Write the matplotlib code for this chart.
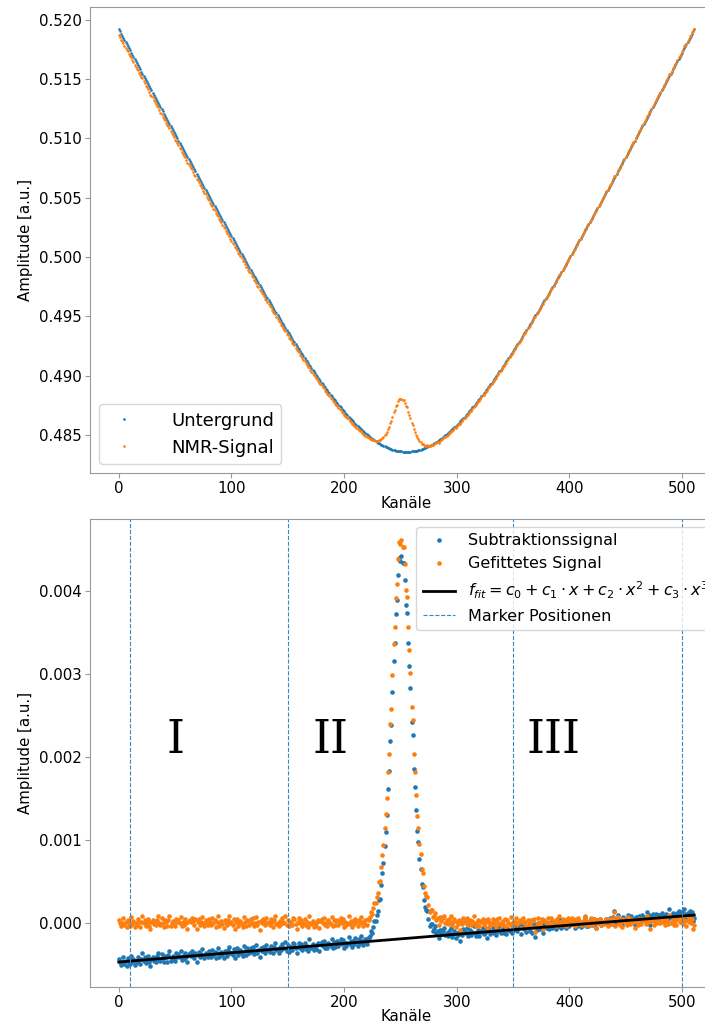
import numpy as np
import matplotlib
matplotlib.use("Agg")
import matplotlib.pyplot as plt

# ---------------- data ----------------
kanaele = np.arange(512)

# background: minimum value and offsets (units 1e-5) for channels 256..511;
# the curve is mirror-symmetric around channel 255.5
untergrund_min = 0.48360
untergrund_offset_halb = [
    0, 0, 1, 2, 3, 4, 5, 7,
    9, 11, 14, 16, 19, 22, 26, 29,
    33, 37, 42, 46, 51, 56, 61, 67,
    72, 78, 84, 91, 97, 104, 111, 118,
    125, 133, 140, 148, 156, 165, 173, 182,
    190, 199, 208, 218, 227, 237, 246, 256,
    266, 276, 287, 297, 308, 318, 329, 340,
    351, 363, 374, 385, 397, 409, 421, 433,
    445, 457, 469, 482, 494, 507, 519, 532,
    545, 558, 571, 584, 597, 611, 624, 638,
    651, 665, 679, 692, 706, 720, 734, 748,
    762, 777, 791, 805, 820, 834, 849, 863,
    878, 893, 907, 922, 937, 952, 967, 982,
    997, 1012, 1027, 1043, 1058, 1073, 1089, 1104,
    1120, 1135, 1151, 1166, 1182, 1198, 1213, 1229,
    1245, 1261, 1276, 1292, 1308, 1324, 1340, 1356,
    1372, 1388, 1404, 1421, 1437, 1453, 1469, 1485,
    1502, 1518, 1534, 1551, 1567, 1584, 1600, 1617,
    1633, 1650, 1666, 1683, 1699, 1716, 1733, 1749,
    1766, 1783, 1799, 1816, 1833, 1850, 1867, 1883,
    1900, 1917, 1934, 1951, 1968, 1985, 2002, 2019,
    2036, 2053, 2070, 2087, 2104, 2121, 2138, 2155,
    2172, 2189, 2207, 2224, 2241, 2258, 2275, 2293,
    2310, 2327, 2344, 2362, 2379, 2396, 2414, 2431,
    2448, 2465, 2483, 2500, 2518, 2535, 2552, 2570,
    2587, 2605, 2622, 2640, 2657, 2675, 2692, 2710,
    2727, 2745, 2762, 2780, 2797, 2815, 2832, 2850,
    2867, 2885, 2903, 2920, 2938, 2956, 2973, 2991,
    3008, 3026, 3044, 3061, 3079, 3097, 3115, 3132,
    3150, 3168, 3185, 3203, 3221, 3239, 3256, 3274,
    3292, 3310, 3327, 3345, 3363, 3381, 3399, 3416,
    3434, 3452, 3470, 3488, 3506, 3523, 3541, 3559,
]

# subtraction signal (NMR - background), units 1e-5, channels 0..511
subtraktion_e5 = [
    -44, -48, -51, -47, -42, -50, -46, -52, -43, -47, -50, -40, -48, -44, -51, -46,
    -48, -41, -45, -50, -44, -37, -46, -42, -49, -45, -40, -48, -52, -44, -41, -46,
    -43, -47, -40, -36, -44, -46, -38, -43, -48, -40, -42, -47, -39, -34, -46, -43,
    -40, -44, -46, -37, -41, -38, -42, -34, -45, -40, -44, -36, -41, -48, -38, -37,
    -40, -34, -38, -43, -36, -47, -39, -35, -42, -38, -32, -40, -43, -36, -39, -42,
    -34, -38, -41, -33, -39, -35, -43, -37, -30, -42, -38, -35, -39, -43, -34, -37,
    -40, -33, -29, -37, -36, -39, -32, -43, -35, -31, -39, -36, -33, -37, -40, -28,
    -34, -39, -31, -33, -37, -30, -35, -29, -38, -34, -27, -37, -33, -42, -31, -34,
    -29, -31, -36, -27, -33, -32, -35, -28, -31, -37, -29, -24, -33, -32, -36, -29,
    -33, -26, -30, -31, -23, -34, -27, -35, -30, -29, -33, -25, -26, -31, -37, -29,
    -24, -30, -26, -33, -29, -25, -32, -28, -34, -20, -29, -30, -26, -33, -28, -32,
    -27, -24, -34, -26, -23, -28, -22, -30, -27, -31, -24, -26, -28, -20, -30, -23,
    -29, -24, -22, -28, -25, -20, -26, -21, -30, -24, -28, -25, -17, -26, -22, -29,
    -22, -26, -19, -23, -28, -20, -24, -16, -22, -27, -23, -20, -26, -18, -19, -16,
    -10, -12, -5, 2, 2, 9, 14, 27, 29, 46, 60, 72, 93, 110, 130, 161,
    183, 219, 238, 278, 316, 337, 372, 389, 419, 440, 437, 442, 434, 434, 414, 383,
    374, 338, 310, 283, 242, 226, 185, 164, 136, 111, 97, 77, 65, 47, 43, 27,
    19, 15, 14, 4, -4, -1, -1, -10, -8, -4, -13, -10, -19, -9, -13, -9,
    -10, -7, -15, -12, -16, -10, -14, -6, -17, -14, -10, -19, -13, -15, -11, -22,
    -12, -15, -8, -11, -13, -7, -16, -12, -9, -15, -11, -4, -13, -16, -12, -9,
    -16, -10, -11, -7, -14, -12, -8, -18, -7, -10, -14, -11, -6, -12, -8, -15,
    -6, -10, -4, -13, -9, -8, -12, -5, -14, -6, -9, -10, -2, -12, -8, -9,
    -8, -3, -10, -7, -4, -14, -6, -2, -8, -7, -11, -4, -6, -10, -3, -12,
    -5, -2, -17, -9, 0, -6, -8, -5, -1, -13, -2, -4, -6, 0, -8, -5,
    1, -6, -3, -2, -8, 0, -4, 4, -3, -6, 1, -4, 0, -7, -2, 2,
    -4, 0, 3, -2, -1, -6, 2, -4, 4, 0, -5, -1, -2, 2, 7, -4,
    1, -4, 0, 5, -3, 1, 4, -1, -7, 3, 0, 4, -3, 1, -1, 0,
    1, 5, -3, 3, 6, 2, -1, 7, 14, -2, 5, 9, 2, -1, 3, -3,
    7, 4, 3, 0, 9, 5, 1, 8, 3, 4, -3, 7, 5, 1, 8, 3,
    2, 9, 7, 6, 3, 13, 5, 9, -3, 7, 10, 3, 6, 11, 5, 9,
    9, 5, 12, 7, 8, 3, 11, 9, 5, 16, 7, 8, 12, 4, 9, 5,
    12, 14, 8, 9, 13, 6, 16, 10, 5, 12, 9, 14, 8, 13, 2, 6,
]

# cubic fit coefficients c0..c3
fit_koeff = [-4.75e-4, 1.13e-6, -5.0e-11, 2.0e-14]

marker_positionen = [10, 150, 350, 500]
bereich_namen = ["I", "II", "III"]
bereich_x = [50, 188, 386]
bereich_y = [0.0022, 0.0022, 0.0022]

# ---------------- derived series ----------------
halb = np.array(untergrund_offset_halb, dtype=float)
untergrund = untergrund_min + 1e-5 * np.concatenate([halb[::-1], halb])
subtraktion = 1e-5 * np.array(subtraktion_e5, dtype=float)
nmr_signal = untergrund + subtraktion
x = kanaele.astype(float)
f_fit = fit_koeff[0] + fit_koeff[1] * x + fit_koeff[2] * x**2 + fit_koeff[3] * x**3
gefittet = subtraktion - f_fit

# ---------------- figure ----------------
plt.rcParams['font.family'] = ['DejaVu Sans']
fig = plt.figure(figsize=(7.05, 10.24), dpi=100)
ax1 = fig.add_axes([0.1277, 0.5381, 0.8979, 0.4546])
ax2 = fig.add_axes([0.1277, 0.0361, 0.8979, 0.4570])

spine_col = '0.6'
for ax in (ax1, ax2):
    for s in ax.spines.values():
        s.set_color(spine_col)
    ax.tick_params(labelsize=10.8, color=spine_col, pad=2.5)

# top
ax1.plot(kanaele, untergrund, 'o', ms=1.9, mew=0, color='C0', label='Untergrund')
ax1.plot(kanaele, nmr_signal, 'o', ms=1.9, mew=0, color='C1', label='NMR-Signal')
ax1.set_xlabel('Kanäle', fontsize=10.8, labelpad=0)
ax1.set_ylabel('Amplitude [a.u.]', fontsize=10.8)
ax1.ticklabel_format(axis='y', useOffset=False)
ax1.legend(loc='lower left', fontsize=13, markerscale=1.0, handletextpad=1.6)

# bottom
ax2.plot(kanaele, subtraktion, 'o', ms=3.3, mew=0, color='C0', label='Subtraktionssignal')
ax2.plot(kanaele, gefittet, 'o', ms=3.3, mew=0, color='C1', label='Gefittetes Signal')
ax2.plot(kanaele, f_fit, '-', color='black', lw=2,
         label=r'$f_{fit} = c_0 + c_1 \cdot x + c_2 \cdot x^2 + c_3 \cdot x^3$')
for i, mp in enumerate(marker_positionen):
    ax2.axvline(mp, color='#3a87bf', ls='--', lw=0.8,
                label='Marker Positionen' if i == 0 else None)
for name, bx, by in zip(bereich_namen, bereich_x, bereich_y):
    ax2.text(bx, by, name, fontsize=33, family='DejaVu Serif',
             ha='center', va='center', color='black')
ax2.set_xlabel('Kanäle', fontsize=10.8, labelpad=-1)
ax2.set_ylabel('Amplitude [a.u.]', fontsize=10.8)
ax2.ticklabel_format(axis='y', useOffset=False, style='plain')
ax2.legend(loc='upper right', fontsize=11.5, markerscale=1.0)

fig.savefig('out.png', dpi=100)
